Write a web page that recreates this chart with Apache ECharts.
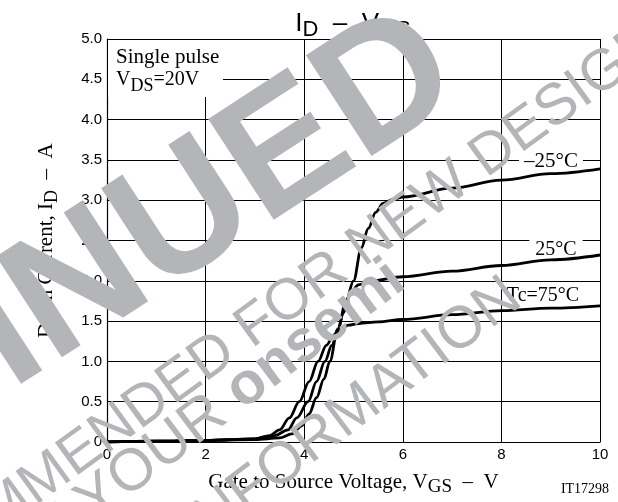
<!DOCTYPE html>
<html><head><meta charset="utf-8">
<script src="https://cdn.jsdelivr.net/npm/echarts@6/dist/echarts.min.js"></script>
<style>html,body{margin:0;padding:0;background:#fff}#c{width:618px;height:502px}</style>
</head><body><div id="c"></div>
<script>
// ---- data (VGS in V, ID in A) ----
const vgsTicks = [0, 2, 4, 6, 8, 10];
const idTicks = [0, 0.5, 1.0, 1.5, 2.0, 2.5, 3.0, 3.5, 4.0, 4.5, 5.0];

const vgsM25 = [0, 1, 2, 3, 3.5, 3.75, 3.95, 4.1, 4.25, 4.4, 4.52, 4.68, 4.85, 5.0, 5.16, 5.3, 5.45, 5.6, 5.8, 6, 7, 8, 9, 10];
const idM25  = [0, 0.01, 0.02, 0.03, 0.05, 0.1, 0.2, 0.35, 0.55, 0.78, 1.0, 1.4, 1.75, 2.0, 2.41, 2.65, 2.85, 2.96, 3.01, 3.04, 3.15, 3.25, 3.33, 3.39];

const vgs25 = [0, 1, 2, 3, 3.4, 3.67, 3.85, 4.08, 4.25, 4.42, 4.56, 4.69, 4.79, 4.93, 5.1, 5.35, 6, 7, 8, 9, 10];
const id25  = [0, 0.01, 0.02, 0.04, 0.08, 0.15, 0.3, 0.5, 0.75, 1.0, 1.2, 1.4, 1.6, 1.84, 1.95, 2.0, 2.05, 2.12, 2.19, 2.26, 2.32];

const vgs75 = [0, 1, 2, 3, 3.3, 3.5, 3.7, 3.9, 4.1, 4.28, 4.45, 4.6, 4.75, 4.9, 5.1, 5.5, 6, 7, 8, 9, 10];
const id75  = [0, 0.01, 0.02, 0.04, 0.08, 0.15, 0.3, 0.5, 0.75, 1.0, 1.2, 1.33, 1.41, 1.45, 1.47, 1.49, 1.52, 1.58, 1.63, 1.66, 1.69];

const seriesNames = ['–25°C', '25°C', 'Tc=75°C'];
// -----------------------------------------------------------

const zip = (xs, ys) => xs.map((x, i) => [x, ys[i]]);
const SANS = 'Liberation Sans, Arial, sans-serif';
const SERIF = 'Liberation Serif, Times New Roman, serif';
const WM = '#b4b5b8';

function serifRich(size, subSize, drop) {
  return {
    n: { fontFamily: SERIF, fontSize: size, color: '#000', lineHeight: 30 },
    s: { fontFamily: SERIF, fontSize: subSize, color: '#000', lineHeight: 30 - 2 * drop, verticalAlign: 'bottom' }
  };
}

const chart = echarts.init(document.getElementById('c'), null, { renderer: 'canvas' });
const lineStyle = { color: '#000', width: 2.8 };
const mkSeries = (name, xs, ys) => ({
  name, type: 'line', data: zip(xs, ys), showSymbol: false, smooth: 0.35, smoothMonotone: 'x',
  lineStyle, z: 3, animation: false
});

const deg = Math.PI / 180;

chart.setOption({
  animation: false,
  backgroundColor: '#fff',
  grid: { left: 107, right: 18, top: 39, bottom: 55, containLabel: false },
  xAxis: {
    type: 'value', min: vgsTicks[0], max: vgsTicks[vgsTicks.length - 1], interval: 2,
    axisLine: { show: true, lineStyle: { color: '#000', width: 1.2 } },
    axisTick: { show: false },
    axisLabel: { color: '#000', fontFamily: SANS, fontSize: 15, margin: 5 },
    splitLine: { show: true, lineStyle: { color: '#000', width: 1 } },
    name: '{n|Gate to Source Voltage, V}{s|GS}{n|  –  V}',
    nameLocation: 'middle', nameGap: 25,
    nameTextStyle: { rich: serifRich(21, 19, 4) }
  },
  yAxis: {
    type: 'value', min: idTicks[0], max: idTicks[idTicks.length - 1], interval: 0.5,
    axisLine: { show: true, lineStyle: { color: '#000', width: 1.2 } },
    axisTick: { show: false },
    axisLabel: { color: '#000', fontFamily: SANS, fontSize: 15, margin: 5,
      formatter: v => (v === 0 ? '0' : v.toFixed(1)) },
    splitLine: { show: true, lineStyle: { color: '#000', width: 1 } },
    name: '{n|Drain Current, I}{s|D}{n|  –  A}',
    nameLocation: 'middle', nameGap: 46, nameRotate: 90,
    nameTextStyle: { rich: serifRich(21, 18, 4) }
  },
  series: [
    mkSeries(seriesNames[0], vgsM25, idM25),
    mkSeries(seriesNames[1], vgs25, id25),
    mkSeries(seriesNames[2], vgs75, id75)
  ],
  graphic: [
    // title
    { type: 'text', x: 353, y: 24, z: 5, style: {
        text: '{a|I}{b|D}{a|  –  V}{b|GS}', textAlign: 'center', textVerticalAlign: 'middle',
        rich: {
          a: { fontFamily: SANS, fontSize: 26, fill: '#000', lineHeight: 34 },
          b: { fontFamily: SANS, fontSize: 22, fill: '#000', lineHeight: 24, verticalAlign: 'bottom' }
        } } },
    // condition box
    { type: 'rect', z: 1, shape: { x: 108, y: 40, width: 115, height: 57 }, style: { fill: '#fff' } },
    { type: 'text', x: 116, y: 57, z: 2, style: { text: 'Single pulse', font: '21px ' + SERIF, fill: '#000', textAlign: 'left', textVerticalAlign: 'middle' } },
    { type: 'text', x: 116, y: 80, z: 2, style: {
        text: '{n|V}{s|DS}{n|=20V}', textAlign: 'left', textVerticalAlign: 'middle',
        rich: {
          n: { fontFamily: SERIF, fontSize: 20, fill: '#000', lineHeight: 30 },
          s: { fontFamily: SERIF, fontSize: 18, fill: '#000', lineHeight: 20, verticalAlign: 'bottom' }
        } } },
    // curve labels
    { type: 'text', x: 551, y: 161, z: 2, style: { text: seriesNames[0], font: '21px ' + SERIF, fill: '#000', textAlign: 'center', textVerticalAlign: 'middle', backgroundColor: '#fff', padding: [0, 5] } },
    { type: 'text', x: 556, y: 250, z: 2, style: { text: seriesNames[1], font: '20px ' + SERIF, fill: '#000', textAlign: 'center', textVerticalAlign: 'middle', backgroundColor: '#fff', padding: [0, 6] } },
    { type: 'text', x: 543, y: 296, z: 2, style: { text: seriesNames[2], font: '20px ' + SERIF, fill: '#000', textAlign: 'center', textVerticalAlign: 'middle', backgroundColor: '#fff', padding: [0, 2] } },
    // drawing code
    { type: 'text', x: 585, y: 489, z: 2, style: { text: 'IT17298', font: '14px ' + SERIF, fill: '#000', textAlign: 'center', textVerticalAlign: 'middle' } },
    // watermark
    { type: 'text', x: -117, y: 416, rotation: 33 * deg, z: 50, style: { text: 'DISCONTINUED', font: 'bold 175px ' + SANS, fill: WM, textAlign: 'center', textVerticalAlign: 'middle' } },
    { type: 'text', x: 198, y: 368, rotation: 36 * deg, z: 50, style: { text: 'NOT RECOMMENDED FOR NEW DESIGN', font: '58px ' + SANS, fill: WM, textAlign: 'center', textVerticalAlign: 'middle' } },
    { type: 'text', x: 24, y: 555, rotation: 37 * deg, z: 50, style: {
        text: '{r|PLEASE CONTACT YOUR }{b|onsemi}', textAlign: 'center', textVerticalAlign: 'middle',
        rich: { r: { fontFamily: SANS, fontSize: 59, fill: WM }, b: { fontFamily: SANS, fontWeight: 'bold', fontSize: 59, fill: WM } } } },
    { type: 'text', x: 80, y: 618, rotation: 37 * deg, z: 50, style: { text: 'REPRESENTATIVE FOR INFORMATION', font: '59px ' + SANS, fill: WM, textAlign: 'center', textVerticalAlign: 'middle' } }
  ]
});
</script>
</body></html>
